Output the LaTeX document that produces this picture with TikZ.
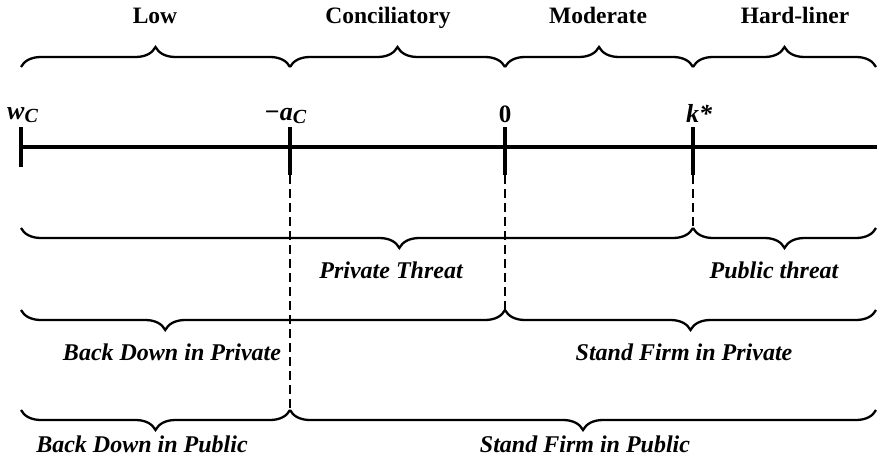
\documentclass[tikz,border=0pt]{standalone}
\usepackage{fontspec}
\setmainfont{Liberation Serif}
\usetikzlibrary{decorations.pathreplacing}
\begin{document}
\begin{tikzpicture}[x=1pt,y=-1pt,
  axisline/.style={line width=3.3pt},
  tickline/.style={line width=3.3pt},
  guide/.style={line width=2.8pt,dash pattern=on 9pt off 5pt},
  bracetop/.style={line width=2.3pt,decorate,decoration={brace,amplitude=20pt,aspect=#1}},
  bracebot/.style={line width=2.3pt,decorate,decoration={brace,mirror,amplitude=20pt,aspect=#1}},
  head/.style={anchor=base,inner sep=0pt,font=\fontsize{23.5}{27}\selectfont\bfseries},
  tag/.style={anchor=base,inner sep=0pt,font=\fontsize{26}{30}\selectfont\bfseries\itshape},
  region/.style={anchor=base,inner sep=0pt,font=\fontsize{24}{28}\selectfont\bfseries\itshape}]
\useasboundingbox (0,0) rectangle (877,468);
\newcommand{\subC}{\raisebox{-0.25ex}{\fontsize{20}{22}\selectfont C}}

% points on the axis
\coordinate (w0) at (21,147);
\coordinate (a0) at (290,147);
\coordinate (z0) at (505,147);
\coordinate (k0) at (693,147);
\coordinate (e0) at (877,147);

% axis and tick marks
\draw[axisline] (w0) -- (e0);
\coordinate (wt) at (21,127);  \coordinate (wb) at (21,167);
\coordinate (at) at (290,127); \coordinate (ab) at (290,175);
\coordinate (zt) at (505,127); \coordinate (zb) at (505,175);
\coordinate (kt) at (693,127); \coordinate (kb) at (693,175);
\draw[tickline] (wt) -- (wb);
\draw[tickline] (at) -- (ab);
\draw[tickline] (zt) -- (zb);
\draw[tickline] (kt) -- (kb);

% dashed guides down from the thresholds
\coordinate (ad) at (290,410);
\coordinate (zd) at (505,310);
\coordinate (kd) at (693,228);
\draw[guide] (ab) -- (ad);
\draw[guide] (zb) -- (zd);
\draw[guide] (kb) -- (kd);

% axis labels
\node[tag,anchor=base west] (lw) at (7,120) {w\subC};
\node[tag,anchor=base west] (la) at (264,121) {\char"2212a\subC};
\node[head,font=\fontsize{25}{29}\selectfont\bfseries] (lz) at (505,122) {0};
\node[tag] (lk) at (699,122) {k*};

% type braces along the top
\coordinate (t1) at (21,67);  \coordinate (t2) at (290,67);
\coordinate (t3) at (505,67); \coordinate (t4) at (693,67);
\coordinate (t5) at (876,67);
\draw[bracetop=0.5] (t1) -- (t2);
\draw[bracetop=0.5] (t2) -- (t3);
\draw[bracetop=0.5] (t3) -- (t4);
\draw[bracetop=0.5] (t4) -- (t5);
\node[head] (nlow) at (155,24) {Low};
\node[head] (ncon) at (388,24) {Conciliatory};
\node[head] (nmod) at (598,24) {Moderate};
\node[head] (nhard) at (795,24) {Hard-liner};

% threat choice
\coordinate (p1) at (21,228);  \coordinate (p2) at (693,228);
\coordinate (p3) at (876,228);
\draw[bracebot=0.563] (p1) -- (p2);
\draw[bracebot=0.5] (p2) -- (p3);
\node[region] (npriv) at (391,278) {Private Threat};
\node[region] (npub) at (774,278) {Public threat};

% response after a private threat
\coordinate (q1) at (21,310);  \coordinate (q2) at (505,310);
\coordinate (q3) at (876,310);
\draw[bracebot=0.298] (q1) -- (q2);
\draw[bracebot=0.5] (q2) -- (q3);
\node[region] (nbdpr) at (172,360) {Back Down in Private};
\node[region] (nsfpr) at (684,360) {Stand Firm in Private};

% response after a public threat
\coordinate (r1) at (21,410);  \coordinate (r2) at (290,410);
\coordinate (r3) at (876,410);
\draw[bracebot=0.5] (r1) -- (r2);
\draw[bracebot=0.5] (r2) -- (r3);
\node[region] (nbdpu) at (142,452) {Back Down in Public};
\node[region] (nsfpu) at (585,452) {Stand Firm in Public};
\end{tikzpicture}
\end{document}
